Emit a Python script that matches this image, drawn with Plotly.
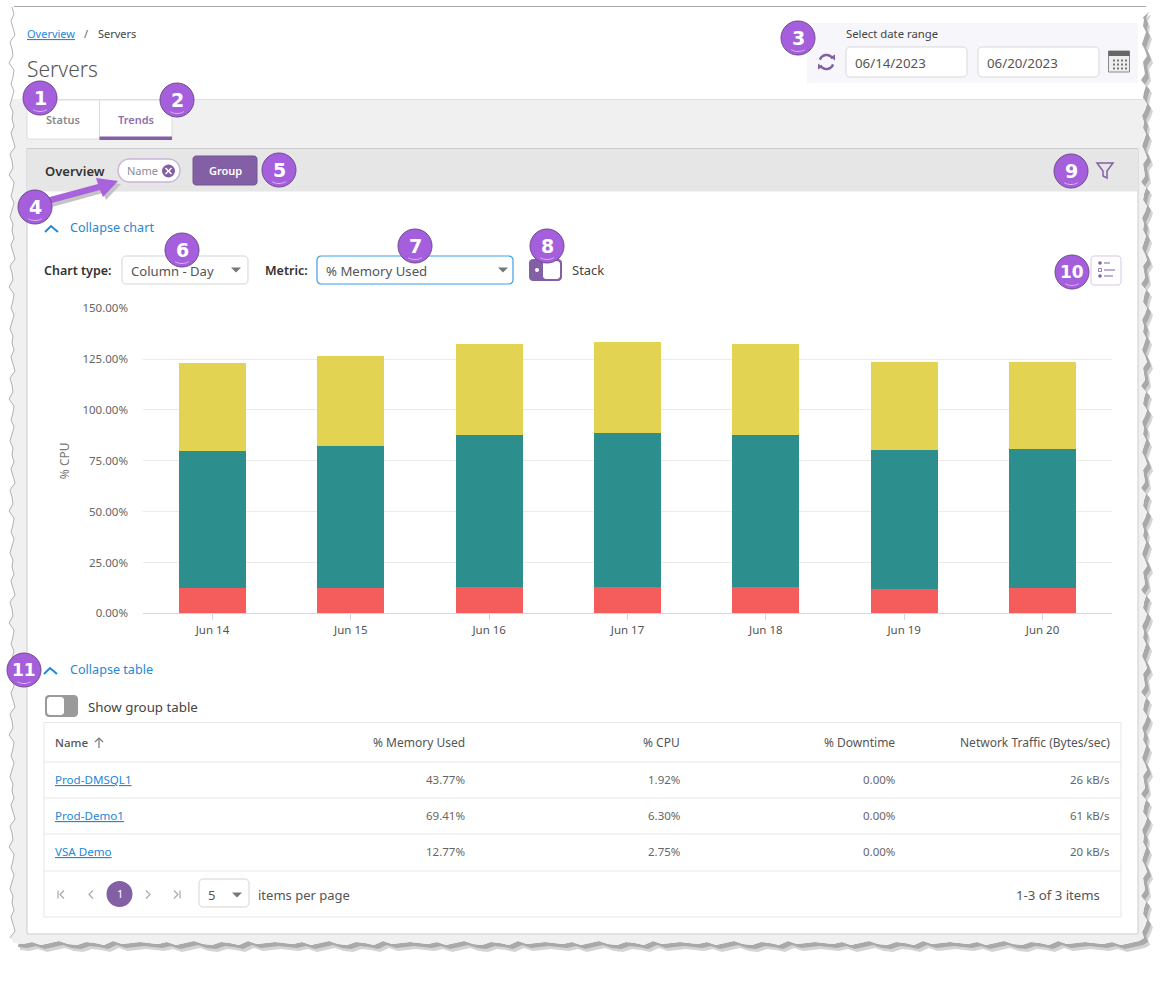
import math
import plotly.graph_objs as go

W = 1172
H = 997
FONT = "Noto Sans"

days = ["Jun 14", "Jun 15", "Jun 16", "Jun 17", "Jun 18", "Jun 19", "Jun 20"]
vsa_demo = [12.6, 12.6, 12.9, 12.9, 12.9, 11.9, 12.4]
prod_demo1 = [67.2, 69.5, 74.8, 75.8, 74.8, 68.4, 68.4]
prod_dmsql1 = [43.3, 44.5, 44.8, 44.7, 44.8, 43.3, 42.8]
y_ticks = [0, 25, 50, 75, 100, 125, 150]
y_tick_labels = ["0.00%", "25.00%", "50.00%", "75.00%", "100.00%", "125.00%", "150.00%"]

table_names = ["Prod-DMSQL1", "Prod-Demo1", "VSA Demo"]
table_headers = ["% Memory Used", "% CPU", "% Downtime", "Network Traffic (Bytes/sec)"]
table_memory = ["43.77%", "69.41%", "12.77%"]
table_cpu = ["1.92%", "6.30%", "2.75%"]
table_downtime = ["0.00%", "0.00%", "0.00%"]
table_network = ["26 kB/s", "61 kB/s", "20 kB/s"]

# wobble of the torn paper edge, in pixels
jag_left = [0, 2, -1, 1, 3, -2, 0, 1, -3, 2, 1, -1, 2, 0, -2, 1]
jag_right = [0, -2, 1, 3, -1, 0, 2, -3, 1, 0, -1, 3, 1, -2, 0, 2, -1]
jag_bottom = [0, 1, -1, 2, 0, -2, 1, 2, -1, 0, 2, -2, 1, 0, -1]

PURPLE = "#8360a6"
BADGE = "#a55fdc"
BLUE = "#2388d8"
shapes = []
annotations = []


def px(x):
    return x / W


def py(y):
    return 1 - y / H


def path_of(points, close=True):
    parts = ["%s%.5f,%.5f" % ("M" if i == 0 else "L", px(x), py(y)) for i, (x, y) in enumerate(points)]
    return " ".join(parts) + (" Z" if close else "")


def poly(points, fill, line=None, width=1, close=True):
    shapes.append(dict(type="path", xref="paper", yref="paper", layer="below", path=path_of(points, close),
                       fillcolor=fill if close else "rgba(0,0,0,0)",
                       line=dict(color=line or "rgba(0,0,0,0)", width=width if line else 0)))


def stroke(points, color, width=1.5):
    poly(points, None, color, width, close=False)


def rect(x0, y0, x1, y1, fill, line=None, width=1, r=0):
    if r == 0:
        pts = [(x0, y0), (x1, y0), (x1, y1), (x0, y1)]
    else:
        pts = []
        corners = [(x1 - r, y0 + r, -90), (x1 - r, y1 - r, 0), (x0 + r, y1 - r, 90), (x0 + r, y0 + r, 180)]
        for cx, cy, start in corners:
            for k in range(5):
                a = math.radians(start + k * 22.5)
                pts.append((cx + r * math.cos(a), cy + r * math.sin(a)))
    poly(pts, fill, line, width)


def circle(cx, cy, r, fill, line=None, width=1):
    shapes.append(dict(type="circle", xref="paper", yref="paper", layer="below",
                       x0=px(cx - r), x1=px(cx + r), y0=py(cy + r), y1=py(cy - r), fillcolor=fill,
                       line=dict(color=line or "rgba(0,0,0,0)", width=width if line else 0)))


def arc(cx, cy, r, a0, a1, n=12):
    return [(cx + r * math.cos(math.radians(a0 + (a1 - a0) * i / n)),
             cy + r * math.sin(math.radians(a0 + (a1 - a0) * i / n))) for i in range(n + 1)]


def text(x, y, s, size=12, color="#444444", anchor="left", weight=400, underline=False, family=FONT):
    font = dict(family=family, size=size, color=color, weight=weight)
    if underline:
        font["lineposition"] = "under"
    annotations.append(dict(xref="paper", yref="paper", x=px(x), y=py(y - 0.2), text=s,
                            showarrow=False, xanchor=anchor, yanchor="middle", font=font, borderpad=0, borderwidth=0))


def caret(x, y):
    poly([(x - 5, y - 2.5), (x + 5, y - 2.5), (x, y + 2.5)], "#777777")


def badge(cx, cy, label):
    circle(cx, cy, 17, BADGE, "#6f4a8e", 1)
    stroke(arc(cx, cy, 13.5, 60, 120), "#d9bdf0", 1)
    text(cx, cy, label, 19 if len(label) == 1 else 17, "white", "center", 700, family="DejaVu Sans")


def torn_edges():
    left = []
    y = 7
    i = 0
    while y < 942:
        left.append((12 + jag_left[i % len(jag_left)], y))
        y += 7
        i += 1
    bottom = []
    x = 14
    i = 0
    while x < 1146:
        bottom.append((x, 943 + jag_bottom[i % len(jag_bottom)]))
        x += 9
        i += 1
    right = []
    y = 938
    i = 0
    while y > 7:
        right.append((1144 + jag_right[i % len(jag_right)], y))
        y -= 6
        i += 1
    return left, bottom, right


# torn paper, gray page background
left_edge, bottom_edge, right_edge = torn_edges()
outline = left_edge + bottom_edge + right_edge
poly([(20, 936)] + [(x + 6, y + 7) for x, y in bottom_edge + right_edge] + [(1140, 20)], "#d4d4d4")
poly([(20, 936)] + [(x + 4, y + 4) for x, y in bottom_edge + right_edge] + [(1140, 20)], "#a9a9a9")
poly(outline + [(1146, 7)], "white")
page = [(12, 99)] + [p for p in left_edge if p[1] >= 99] + bottom_edge + [p for p in right_edge if p[1] >= 99] + [(1144, 99)]
poly(page, "#f0f0f0")
stroke(left_edge, "#a0a0a0", 0.8)
stroke([(14, 6.5), (1146, 6.5)], "#a8a8a8", 1)
stroke([(26, 99.5), (1143, 99.5)], "#e0e0e0", 1)

# heading, breadcrumb
text(27, 34, "Overview", 11, BLUE, underline=True)
text(84, 34, "/", 11, "#666666")
text(98, 34, "Servers", 11, "#444444")
text(27, 69, "Servers", 21, "#555555", weight=300)

# date range
rect(807, 23, 1138, 83, "#f7f7fb")
text(846, 34, "Select date range", 11.3, "#444444")
rect(846, 47, 967, 77, "white", "#d8d8d8", 1, 4)
rect(978, 47, 1099, 77, "white", "#d8d8d8", 1, 4)
text(855, 63, "06/14/2023", 13.3, "#555555")
text(987, 63, "06/20/2023", 13.3, "#555555")
stroke(arc(826.5, 62, 7, 200, 330), PURPLE, 2.5)
stroke(arc(826.5, 62, 7, 20, 150), PURPLE, 2.5)
poly([(830.5, 57), (835, 54.5), (835, 60.5)], PURPLE)
poly([(822.5, 67), (818, 69.5), (818, 63.5)], PURPLE)
rect(1108.5, 51, 1129.5, 72, "#efefef", "#888888", 1)
rect(1108.5, 51, 1129.5, 56, "#666666")
for row_y in (59.5, 63.5, 67.5):
    for col_x in (1113, 1117, 1121, 1125):
        rect(col_x, row_y, col_x + 2, row_y + 2, "#777777")

# tabs
rect(27, 100, 99.5, 139, "white", "#dddddd")
rect(99.5, 100, 172, 139, "white", "#dddddd")
rect(99.5, 136.5, 172, 140, PURPLE)
text(63, 120, "Status", 11, "#8a8a8a", "center", 600)
text(136, 120, "Trends", 11, "#8f6fae", "center", 600)

# panel with its gray header
rect(27, 148.5, 1138, 934, "white", "#cccccc")
rect(27.5, 149, 1137.5, 191.5, "#e6e6e6")
text(45, 171, "Overview", 13, "#333333", weight=600)
rect(118, 159, 180, 182, "white", "#c9b6dc", 1.5, 11)
text(127, 171, "Name", 11, "#8a8a9a")
circle(168.5, 171, 6.5, PURPLE)
stroke([(165.5, 168), (171.5, 174)], "white", 1.5)
stroke([(171.5, 168), (165.5, 174)], "white", 1.5)
rect(193, 156, 257, 185, PURPLE, "#74548f", 1, 3)
text(225, 171, "Group", 11, "white", "center", 600)
poly([(1097, 163), (1113, 163), (1107, 171), (1107, 178), (1103, 176), (1103, 171)], "rgba(0,0,0,0)", PURPLE, 1.5)

# arrow from badge 4 to the chip
poly([(52, 207), (103, 193), (106, 200), (121, 184), (99, 181), (101, 187), (50, 201)], "#c4c4c4")
poly([(48, 204), (100, 190), (103, 197), (118, 181), (96, 178), (98, 184), (46, 198)], "#a863dc")

# chart controls
stroke([(45, 232), (51, 226), (58, 232)], BLUE, 2)
text(70, 228, "Collapse chart", 12.6, BLUE)
text(44, 271, "Chart type:", 12.5, "#333333", weight=600)
rect(122, 256, 248, 284, "white", "#d4d4d4", 1, 4)
text(131, 271, "Column - Day", 13.1, "#555555")
caret(236, 270)
text(265, 271, "Metric:", 12.5, "#333333", weight=600)
rect(317, 256, 513, 284, "white", "#3b9fe6", 1.2, 4)
text(326, 271, "% Memory Used", 13.2, "#555555")
caret(503, 270)
rect(529, 259, 562, 281, PURPLE, None, 1, 4)
rect(543, 261, 560, 279, "white", None, 1, 3)
circle(537, 270, 2, "white")
text(572, 270, "Stack", 13, "#444444")
rect(1091, 256, 1121, 285, "white", "#d6c9e4", 1, 3)
circle(1100, 263, 1.8, PURPLE)
rect(1098.5, 268.5, 1101.5, 271.5, "white", PURPLE, 0.8)
circle(1100, 276, 1.8, PURPLE)
stroke([(1104, 263), (1110, 263)], PURPLE, 1)
stroke([(1104, 270), (1115, 270)], PURPLE, 1)
stroke([(1104, 276), (1113, 276)], PURPLE, 1)

# table section
stroke([(44, 674), (50, 668), (57, 674)], BLUE, 2)
text(70, 670, "Collapse table", 12.6, BLUE)
rect(45, 695, 78, 717, "#9a9a9a", None, 1, 4)
rect(47, 697, 64, 715, "white", None, 1, 3)
text(88, 707, "Show group table", 13.3, "#444444")
rect(44, 722.5, 1121, 917, "white", "#e6e6e6")
for line_y in (762, 798, 834, 871):
    stroke([(44, line_y), (1121, line_y)], "#e9e9e9", 1.2)

text(55, 743, "Name", 11.5, "#555555", weight=500)
stroke([(99, 748), (99, 738)], "#777777", 1.2)
stroke([(95, 742), (99, 738), (103, 742)], "#777777", 1.2)
column_right = [465, 680, 895, 1110]
for right, header in zip(column_right, table_headers):
    text(right, 743, header, 12, "#555555", "right")
row_y = [780, 816, 852]
for y, name, mem, cpu, down, net in zip(row_y, table_names, table_memory, table_cpu, table_downtime, table_network):
    text(55, y, name, 11.6, BLUE, underline=True)
    for right, value in zip(column_right, [mem, cpu, down, net]):
        text(right, y, value, 11.5, "#666666", "right")

# pager
for x0, sign, bar in ((62, -1, True), (91, -1, False), (148, 1, False), (176, 1, True)):
    stroke([(x0 - sign * 2, 890.5), (x0 + sign * 2, 894.5), (x0 - sign * 2, 898.5)], "#aaaaaa", 1.2)
    if bar:
        stroke([(x0 + sign * 4, 890.5), (x0 + sign * 4, 898.5)], "#aaaaaa", 1.2)
circle(119.5, 894, 13, PURPLE)
text(119.5, 894, "1", 11, "white", "center")
rect(199, 879, 249, 907, "white", "#d4d4d4", 1, 4)
text(208, 895, "5", 13, "#555555")
caret(237, 895)
text(258, 895, "items per page", 13, "#555555")
text(1100, 895, "1-3 of 3 items", 13.2, "#555555", "right")

# numbered badges
for cx, cy, label in [(40, 98, "1"), (177, 100, "2"), (798, 38, "3"), (35, 207, "4"), (279, 170, "5"),
                      (182, 250, "6"), (415, 246, "7"), (547, 246, "8"), (1071, 171, "9"),
                      (1072, 272, "10"), (24, 670, "11")]:
    badge(cx, cy, label)

data = [
    go.Bar(x=days, y=vsa_demo, name="VSA Demo", marker=dict(color="#f55c5c", line=dict(width=0))),
    go.Bar(x=days, y=prod_demo1, name="Prod-Demo1", marker=dict(color="#2d8e8e", line=dict(width=0))),
    go.Bar(x=days, y=prod_dmsql1, name="Prod-DMSQL1", marker=dict(color="#e3d352", line=dict(width=0))),
]
layout = go.Layout(
    width=W,
    height=H,
    autosize=False,
    margin=dict(l=0, r=0, t=0, b=0, pad=0),
    paper_bgcolor="white",
    plot_bgcolor="rgba(0,0,0,0)",
    barmode="stack",
    bargap=0.516,
    showlegend=False,
    font=dict(family=FONT, size=11, color="#666666"),
    xaxis=dict(
        automargin=False,
        domain=[px(143.3), px(1111.7)],
        type="category",
        range=[-0.5, 6.5],
        showgrid=False,
        showline=True,
        linecolor="#d0d5e8",
        linewidth=1,
        ticks="outside",
        ticklen=6,
        tickcolor="#d0d5e8",
        tickfont=dict(size=11.5, color="#555555"),
    ),
    yaxis=dict(
        automargin=False,
        domain=[py(613.3), py(308.3)],
        range=[0, 150],
        tickvals=y_ticks,
        ticktext=y_tick_labels,
        gridcolor="#ebebeb",
        gridwidth=1,
        zeroline=False,
        showline=False,
        ticks="outside",
        ticklen=12,
        tickcolor="rgba(0,0,0,0)",
        tickfont=dict(size=11.5, color="#666666"),
        title=dict(text="% CPU", font=dict(size=12, color="#777777"), standoff=10),
    ),
    shapes=shapes,
    annotations=annotations,
)
fig = go.Figure(data=data, layout=layout)
fig.write_html("out.html", config=dict(displayModeBar=False), post_script="document.body.style.margin='0';")
